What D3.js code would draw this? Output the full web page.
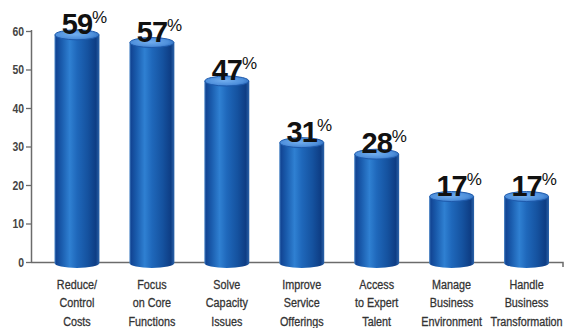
<!DOCTYPE html>
<html>
<head>
<meta charset="utf-8">
<script src="https://cdn.jsdelivr.net/npm/d3@7"></script>
<style>
  body { margin: 0; background: #fff; }
  svg { display: block; }
</style>
</head>
<body>
<svg id="chart" width="573" height="328" viewBox="0 0 573 328"></svg>
<script>
// values
var categories = ["Reduce/ Control Costs", "Focus on Core Functions", "Solve Capacity Issues",
  "Improve Service Offerings", "Access to Expert Talent", "Manage Business Environment",
  "Handle Business Transformation"];
var labelLines = [
  ["Reduce/", "Control", "Costs"],
  ["Focus", "on Core", "Functions"],
  ["Solve", "Capacity", "Issues"],
  ["Improve", "Service", "Offerings"],
  ["Access", "to Expert", "Talent"],
  ["Manage", "Business", "Environment"],
  ["Handle", "Business", "Transformation"]
];
var percents = [59, 57, 47, 31, 28, 17, 17];
var yTicks = [0, 10, 20, 30, 40, 50, 60];

var svg = d3.select("#chart");
var plotTop = 31, plotBottom = 262, plotLeft = 31, plotRight = 564;

var xScale = d3.scaleBand()
  .domain(categories)
  .range([39.5, plotRight])
  .paddingInner(0.4)
  .paddingOuter(0.2);

var yScale = d3.scaleLinear()
  .domain([0, 60])
  .range([plotBottom, plotTop]);

var defs = svg.append("defs");
var grad = defs.append("linearGradient")
  .attr("id", "barGrad")
  .attr("x1", "0%").attr("x2", "100%").attr("y1", "0%").attr("y2", "0%");
[["0%", "#4a86c8"], ["4%", "#124594"], ["16%", "#1a5cad"], ["34%", "#2f80d2"],
 ["50%", "#1f68bb"], ["74%", "#15529f"], ["92%", "#0e3d84"], ["100%", "#2c64aa"]].forEach(function (s) {
  grad.append("stop").attr("offset", s[0]).attr("stop-color", s[1]);
});
var topGrad = defs.append("radialGradient")
  .attr("id", "topGrad")
  .attr("cx", "45%").attr("cy", "45%").attr("r", "60%");
[["0%", "#72aeee"], ["70%", "#4f90dc"], ["100%", "#2f6ebf"]].forEach(function (s) {
  topGrad.append("stop").attr("offset", s[0]).attr("stop-color", s[1]);
});

var narrow = 0.8; // condensed look for the small labels

// x axis line (drawn first, bars cover it)
svg.append("path")
  .attr("d", "M" + plotLeft + "," + (plotBottom + 0.5) + "H" + (plotRight - 1) + "V" + (plotBottom + 5))
  .attr("fill", "none")
  .attr("stroke", "#6b6b6b")
  .attr("stroke-width", 1.5);

// y axis
var yAxis = d3.axisLeft(yScale)
  .tickValues(yTicks)
  .tickSize(5)
  .tickPadding(2)
  .tickSizeOuter(0);
var yg = svg.append("g")
  .attr("transform", "translate(" + plotLeft + ",0)")
  .call(yAxis);
yg.select(".domain").attr("stroke", "#6b6b6b").attr("stroke-width", 1.5)
  .attr("d", "M0.5," + (plotTop - 1) + "V" + (plotBottom + 1));
yg.selectAll(".tick line").attr("stroke", "#6b6b6b").attr("stroke-width", 1.3);
yg.selectAll(".tick text")
  .attr("fill", "#444")
  .attr("x", -7 / narrow)
  .attr("transform", "scale(" + narrow + ",1)")
  .style("font-family", "'Liberation Sans', Arial, sans-serif")
  .style("font-weight", "bold")
  .style("font-size", "13px");

// cylinders
var bw = xScale.bandwidth();
var rx = bw / 2, ry = 5;
var bars = svg.selectAll(".bar")
  .data(percents)
  .enter().append("g")
  .attr("class", "bar");

bars.append("path")
  .attr("d", function (d, i) {
    var x0 = xScale(categories[i]);
    var x1 = x0 + bw;
    var yt = yScale(d);
    var yb = plotBottom + 1;
    return "M" + x0 + "," + yt + "V" + yb +
      "A" + rx + "," + ry + " 0 0 0 " + x1 + "," + yb +
      "V" + yt + "Z";
  })
  .attr("fill", "url(#barGrad)");

bars.append("ellipse")
  .attr("cx", function (d, i) { return xScale(categories[i]) + rx; })
  .attr("cy", function (d) { return yScale(d); })
  .attr("rx", rx - 0.5)
  .attr("ry", ry)
  .attr("fill", "url(#topGrad)")
  .attr("stroke", "#1e5aac")
  .attr("stroke-width", 1);

// value labels
var numText = bars.append("text")
  .attr("x", function (d, i) { return xScale(categories[i]) + rx; })
  .attr("y", function (d) { return yScale(d) - 1; })
  .attr("text-anchor", "middle")
  .attr("fill", "#111")
  .style("font-family", "'Liberation Sans', Arial, sans-serif")
  .style("font-weight", "bold")
  .style("font-size", "29px")
  .style("letter-spacing", "-1px")
  .text(function (d) { return d; });

bars.append("text")
  .attr("x", function (d, i) {
    var w = numText.nodes()[i].getComputedTextLength();
    return xScale(categories[i]) + rx + w / 2;
  })
  .attr("y", function (d) { return yScale(d) - 12; })
  .attr("fill", "#111")
  .style("font-family", "'Liberation Sans', Arial, sans-serif")
  .style("font-size", "17px")
  .text("%");

// category labels
var cat = svg.selectAll(".cat")
  .data(labelLines)
  .enter().append("text")
  .attr("class", "cat")
  .attr("text-anchor", "middle")
  .attr("fill", "#333")
  .style("font-family", "'Liberation Sans', Arial, sans-serif")
  .style("font-size", "13.5px")
  .style("stroke", "#333")
  .style("stroke-width", "0.3px")
  .attr("transform", function (d, i) {
    return "translate(" + (xScale(categories[i]) + rx) + ",0) scale(" + narrow + ",1)";
  });
cat.selectAll("tspan")
  .data(function (d) { return d; })
  .enter().append("tspan")
  .attr("x", 0)
  .attr("y", function (d, j) { return 289 + j * 18.5; })
  .text(function (d) { return d; });
</script>
</body>
</html>
